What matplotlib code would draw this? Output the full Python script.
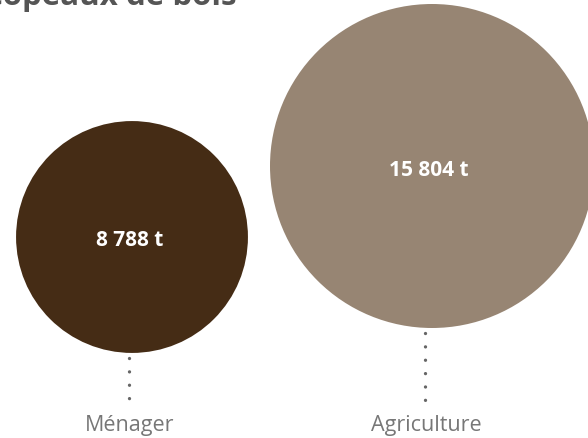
import matplotlib
matplotlib.use("Agg")
import matplotlib.pyplot as plt
from matplotlib.patches import Circle

# Data
categories = ["Ménager", "Agriculture"]
values = [8788, 15804]
value_labels = ["8 788 t", "15 804 t"]
colors = ["#452c15", "#978573"]
title = "Provenance des copeaux de bois"

# Layout (pixel space)
W, H = 588, 438
centers_x = [132, 432]
centers_y = [237, 166]
dot_x = [129, 425]
text_x = [130, 429]
r_max = 162
exponent = 0.57
label_y = 425
dot_end = [410, 401]

fig = plt.figure(figsize=(W / 100, H / 100), dpi=100)
ax = fig.add_axes([0, 0, 1, 1])
ax.set_xlim(0, W)
ax.set_ylim(H, 0)
ax.axis("off")

vmax = max(values)
for cat, v, lab, col, cx, cy, dx, tx, de in zip(categories, values, value_labels,
                                                colors, centers_x, centers_y,
                                                dot_x, text_x, dot_end):
    r = r_max * (v / vmax) ** exponent
    ax.add_patch(Circle((cx, cy), r, facecolor=col, edgecolor="none"))
    ax.text(tx, cy + 4, lab, ha="center", va="center", color="white",
            fontsize=15, fontweight="bold", family="Open Sans")
    ax.plot([dx, dx], [cy + r + 5, de], color="#666666", lw=2.4,
            linestyle=(0, (0.01, 4.0)), dash_capstyle="round",
            solid_capstyle="round")
    ax.text(dx + 1, label_y, cat, ha="center", va="center", color="#777777",
            fontsize=15.5, family="Open Sans")

ax.text(237, 5, title, ha="right", va="baseline", color="#555555",
        fontsize=22.5, fontweight="bold", family="Open Sans")

fig.savefig("out.png", dpi=100)
